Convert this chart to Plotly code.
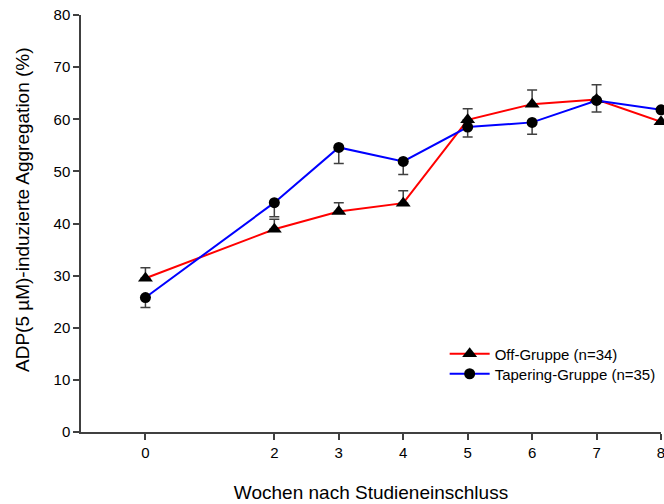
import plotly.graph_objects as go

weeks = [0, 2, 3, 4, 5, 6, 7, 8]
off_values = [29.5, 38.9, 42.3, 43.9, 59.9, 62.9, 63.8, 59.5]
off_err_up = [2.0, 1.9, 1.7, 2.4, 2.1, 2.7, 2.8, None]
tap_values = [25.8, 44.0, 54.6, 51.9, 58.5, 59.4, 63.6, 61.8]
tap_err_down = [1.9, 2.7, 3.1, 2.5, 1.9, 2.3, 2.2, None]
x_ticks = [0, 2, 3, 4, 5, 6, 7, 8]
y_ticks = [0, 10, 20, 30, 40, 50, 60, 70, 80]

FONT = "Liberation Sans, Arial, sans-serif"
AXIS_COLOR = "#404040"

fig = go.Figure()
fig.add_trace(go.Scatter(
    x=weeks, y=off_values, mode="lines+markers", name="Off-Gruppe (n=34)",
    line=dict(color="#ff0000", width=2),
    marker=dict(symbol="triangle-up", size=13, color="black"),
    error_y=dict(type="data", symmetric=False, array=off_err_up,
                 arrayminus=[0 if v is not None else None for v in off_err_up],
                 color=AXIS_COLOR, thickness=1.5, width=5),
    cliponaxis=False, legend="legend",
))
fig.add_trace(go.Scatter(
    x=weeks, y=tap_values, mode="lines+markers", name="Tapering-Gruppe (n=35)",
    line=dict(color="#0000ff", width=2),
    marker=dict(symbol="circle", size=11, color="black"),
    error_y=dict(type="data", symmetric=False,
                 array=[0 if v is not None else None for v in tap_err_down],
                 arrayminus=tap_err_down,
                 color=AXIS_COLOR, thickness=1.5, width=5),
    cliponaxis=False, legend="legend2",
))

leg_common = dict(xanchor="left", yanchor="middle", bgcolor="rgba(0,0,0,0)",
                  font=dict(size=15), itemwidth=40, borderwidth=0)

fig.update_layout(
    width=664, height=504,
    margin=dict(l=81, r=3, t=15, b=72, autoexpand=False),
    plot_bgcolor="white", paper_bgcolor="white",
    font=dict(family=FONT, size=15, color="black"),
    showlegend=True,
    legend=dict(x=0.627, y=(432 - 354) / 417, **leg_common),
    legend2=dict(x=0.627, y=(432 - 374) / 417, **leg_common),
    xaxis=dict(
        range=[-1, 8], tickvals=x_ticks, ticktext=[str(t) for t in x_ticks],
        showline=True, linecolor=AXIS_COLOR, linewidth=1.5,
        ticks="outside", ticklen=6, tickcolor=AXIS_COLOR, tickwidth=1.5,
        ticklabeloverflow="allow",
        showgrid=False, zeroline=False,
        title=dict(text="Wochen nach Studieneinschluss", font=dict(size=19), standoff=26),
    ),
    yaxis=dict(
        range=[0, 80], tickvals=y_ticks,
        showline=True, linecolor=AXIS_COLOR, linewidth=1.5,
        ticks="outside", ticklen=6, tickcolor=AXIS_COLOR, tickwidth=1.5,
        showgrid=False, zeroline=False,
    ),
    annotations=[dict(
        text="ADP(5 µM)-induzierte Aggregation (%)", textangle=-90,
        xref="paper", yref="paper", x=-(81 - 22) / 580, y=(432 - 210) / 417,
        xanchor="center", yanchor="middle", showarrow=False,
        font=dict(size=19),
    )],
)

fig.write_html("out.html")
